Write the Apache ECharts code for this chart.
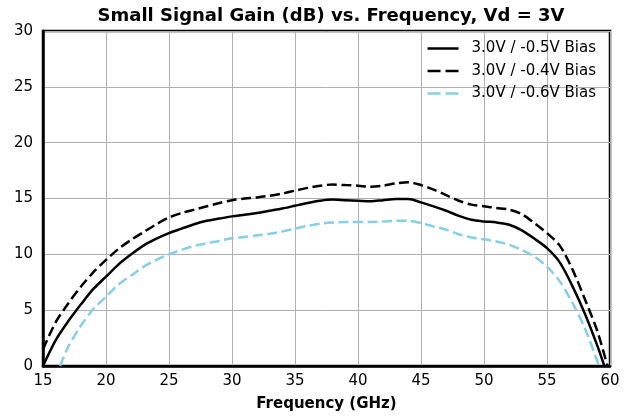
<!DOCTYPE html>
<html>
<head>
<meta charset="utf-8">
<script src="https://cdn.jsdelivr.net/npm/echarts@6/dist/echarts.min.js"></script>
<style>html,body{margin:0;padding:0;background:#fff}#c{width:633px;height:417px}</style>
</head>
<body>
<div id="c"></div>
<script>
const titleText = 'Small Signal Gain (dB) vs. Frequency, Vd = 3V';
const xLabel = 'Frequency (GHz)';
const seriesNames = ['3.0V / -0.5V Bias', '3.0V / -0.4V Bias', '3.0V / -0.6V Bias'];

const gainBias05 = [[15,0],[16,2.3],[17,4.0],[18,5.5],[19,6.9],[20,8.0],[21,9.1],[22,10.0],[23,10.8],[24,11.4],[25,11.9],[26,12.3],[27,12.7],[28,13.0],[29,13.2],[30,13.4],[31,13.55],[32,13.7],[33,13.9],[34,14.1],[35,14.35],[36,14.6],[37,14.8],[38,14.9],[39,14.85],[40,14.8],[41,14.75],[42,14.85],[43,14.95],[44,14.95],[45,14.65],[46,14.3],[47,13.9],[48,13.45],[49,13.1],[50,12.95],[51,12.85],[52,12.65],[53,12.15],[54,11.4],[55,10.55],[56,9.3],[57,7.2],[58,4.7],[59,1.8],[59.55,0]];
const gainBias04 = [[15,1.5],[16,3.9],[17,5.6],[18,7.1],[19,8.4],[20,9.5],[21,10.5],[22,11.3],[23,12.0],[24,12.7],[25,13.3],[26,13.7],[27,14.0],[28,14.3],[29,14.6],[30,14.85],[31,15.0],[32,15.1],[33,15.25],[34,15.45],[35,15.7],[36,15.95],[37,16.15],[38,16.25],[39,16.2],[40,16.15],[41,16.05],[42,16.15],[43,16.35],[44,16.45],[45,16.2],[46,15.8],[47,15.3],[48,14.8],[49,14.45],[50,14.3],[51,14.15],[52,14.0],[53,13.6],[54,12.8],[55,11.9],[56,10.8],[57,8.7],[58,6.0],[59,3.1],[59.8,0]];
const gainBias06 = [[16.35,0],[17,1.7],[18,3.6],[19,5.1],[20,6.2],[21,7.3],[22,8.1],[23,8.9],[24,9.5],[25,10.0],[26,10.4],[27,10.75],[28,11.0],[29,11.2],[30,11.45],[31,11.55],[32,11.7],[33,11.85],[34,12.05],[35,12.3],[36,12.55],[37,12.75],[38,12.85],[39,12.9],[40,12.9],[41,12.9],[42,12.95],[43,13.0],[44,13.0],[45,12.8],[46,12.5],[47,12.2],[48,11.8],[49,11.5],[50,11.35],[51,11.15],[52,10.85],[53,10.4],[54,9.8],[55,8.9],[56,7.6],[57,5.7],[58,3.4],[59,0.4],[59.1,0]];

const chart = echarts.init(document.getElementById('c'), null, {renderer: 'canvas'});
const font = 'DejaVu Sans';
const dash = [10, 4.5];
const legendDash = [13, 5];
function mk(name, data, color, type) {
  return {
    name: name, type: 'line', data: data, smooth: 0.3, showSymbol: false, symbol: 'none',
    lineStyle: {color: color, width: 2.5, type: type === 'dashed' ? dash : 'solid'},
    itemStyle: {color: color}, clip: true, animation: false
  };
}
chart.setOption({
  animation: false,
  backgroundColor: '#fff',
  title: {text: titleText, left: 326, textAlign: 'center', top: 2,
    textStyle: {fontFamily: font, fontWeight: 'bold', fontSize: 18, color: '#000'}},
  grid: {left: 43, right: 23, top: 31, bottom: 50, show: true, borderColor: '#000', borderWidth: 2.5, backgroundColor: 'transparent'},
  legend: {
    right: 32, top: 36, orient: 'vertical', itemGap: 7.5, itemWidth: 31, itemHeight: 15,
    itemStyle: {color: 'rgba(0,0,0,0)', borderWidth: 0, opacity: 0},
    lineStyle: {width: 2.5},
    textStyle: {fontFamily: font, fontSize: 15, lineHeight: 15, color: '#000', padding: [0,0,0,8]},
    data: [
      {name: seriesNames[0]},
      {name: seriesNames[1], lineStyle: {type: legendDash, width: 2.5}},
      {name: seriesNames[2], lineStyle: {type: legendDash, width: 2.5}}
    ]
  },
  xAxis: {
    type: 'value', min: 15, max: 60, interval: 5,
    name: xLabel, nameLocation: 'middle', nameGap: 31,
    nameTextStyle: {fontFamily: font, fontWeight: 'bold', fontSize: 15, color: '#000'},
    axisLine: {show: true, lineStyle: {color: '#000', width: 2.5}},
    axisTick: {show: false},
    axisLabel: {fontFamily: font, fontSize: 15, color: '#000', margin: 8},
    splitLine: {show: true, lineStyle: {color: '#b0b0b0', width: 1}}
  },
  yAxis: {
    type: 'value', min: 0, max: 30, interval: 5,
    axisLine: {show: true, lineStyle: {color: '#000', width: 2.5}},
    axisTick: {show: false},
    axisLabel: {fontFamily: font, fontSize: 15, color: '#000', margin: 10},
    splitLine: {show: true, lineStyle: {color: '#b0b0b0', width: 1}}
  },
  series: [
    mk(seriesNames[0], gainBias05, '#000000', 'solid'),
    mk(seriesNames[1], gainBias04, '#000000', 'dashed'),
    mk(seriesNames[2], gainBias06, '#87CEEB', 'dashed')
  ]
});
</script>
</body>
</html>
